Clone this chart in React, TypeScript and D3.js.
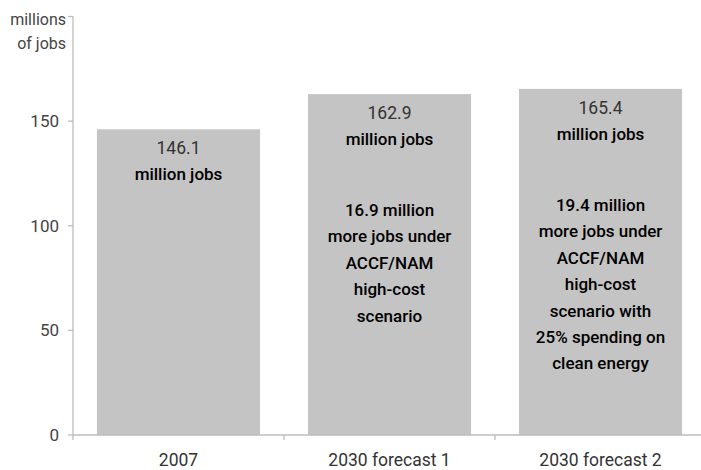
import React from "react";
import * as d3 from "d3";

const categories = ["2007", "2030 forecast 1", "2030 forecast 2"];
const values = [146.1, 162.9, 165.4];
const valueLabels = ["146.1", "162.9", "165.4"];
const unitLabel = "million jobs";
const notes: string[][] = [
  [],
  ["16.9 million", "more jobs under", "ACCF/NAM", "high-cost", "scenario"],
  ["19.4 million", "more jobs under", "ACCF/NAM", "high-cost", "scenario with", "25% spending on", "clean energy"],
];
const noteTops = [0, 210, 205];
const yTicks = [0, 50, 100, 150];
const yTitle = ["millions", "of jobs"];

const W = 701;
const H = 470;
const FONT = "Roboto, 'Liberation Sans', Arial, sans-serif";

export default function App() {
  const x = d3
    .scaleBand<string>()
    .domain(categories)
    .range([73, 706])
    .paddingInner(0.227)
    .paddingOuter(0.1135);
  const y = d3.scaleLinear().domain([0, 200]).range([435, 16.5]);
  const step = x.step();
  const axisColor = "#bdbdbd";

  return (
    <svg
      width={W}
      height={H}
      style={{ position: "absolute", left: 0, top: 0, background: "#fff" }}
      fontFamily={FONT}
    >
      {categories.map((c, i) => (
        <rect
          key={c}
          x={x(c)!}
          y={y(values[i])}
          width={x.bandwidth()}
          height={y(0) - y(values[i])}
          fill="#c4c4c4"
        />
      ))}
      <line x1={73} x2={73} y1={y(200)} y2={y(0) + 5} stroke={axisColor} strokeWidth={1.3} />
      {[...yTicks, 200].map((t) => (
        <line key={t} x1={68} x2={73} y1={y(t)} y2={y(t)} stroke={axisColor} strokeWidth={1.3} />
      ))}
      {yTicks.map((t) => (
        <text key={t} x={59} y={y(t)} dy="0.35em" textAnchor="end" fontSize={17} fill="#444">
          {t}
        </text>
      ))}
      {yTitle.map((s, i) => (
        <text key={s} x={66} y={19 + i * 24} dy="0.35em" textAnchor="end" fontSize={16} fill="#444">
          {s}
        </text>
      ))}
      <line x1={73} x2={W} y1={y(0)} y2={y(0)} stroke={axisColor} strokeWidth={1.3} />
      {categories.slice(1).map((c) => (
        <line
          key={c}
          x1={x(c)! - step * 0.1135}
          x2={x(c)! - step * 0.1135}
          y1={y(0)}
          y2={y(0) + 5}
          stroke={axisColor}
          strokeWidth={1.3}
        />
      ))}
      {categories.map((c) => (
        <text
          key={c}
          x={x(c)! + x.bandwidth() / 2}
          y={460}
          dy="0.35em"
          textAnchor="middle"
          fontSize={17.5}
          fill="#333"
        >
          {c}
        </text>
      ))}
      {categories.map((c, i) => {
        const cx = x(c)! + x.bandwidth() / 2;
        const top = y(values[i]);
        return (
          <g key={c}>
            <text x={cx} y={top + 19} dy="0.35em" textAnchor="middle" fontSize={17.5} fill="#333">
              {valueLabels[i]}
            </text>
            <text
              x={cx}
              y={top + 45}
              dy="0.35em"
              textAnchor="middle"
              fontSize={17}
              fontWeight={500}
              fill="#000"
            >
              {unitLabel}
            </text>
            {notes[i].map((line, j) => (
              <text
                key={j}
                x={cx}
                y={noteTops[i] + j * 26.4}
                dy="0.35em"
                textAnchor="middle"
                fontSize={17}
                fontWeight={500}
                fill="#000"
              >
                {line}
              </text>
            ))}
          </g>
        );
      })}
    </svg>
  );
}
